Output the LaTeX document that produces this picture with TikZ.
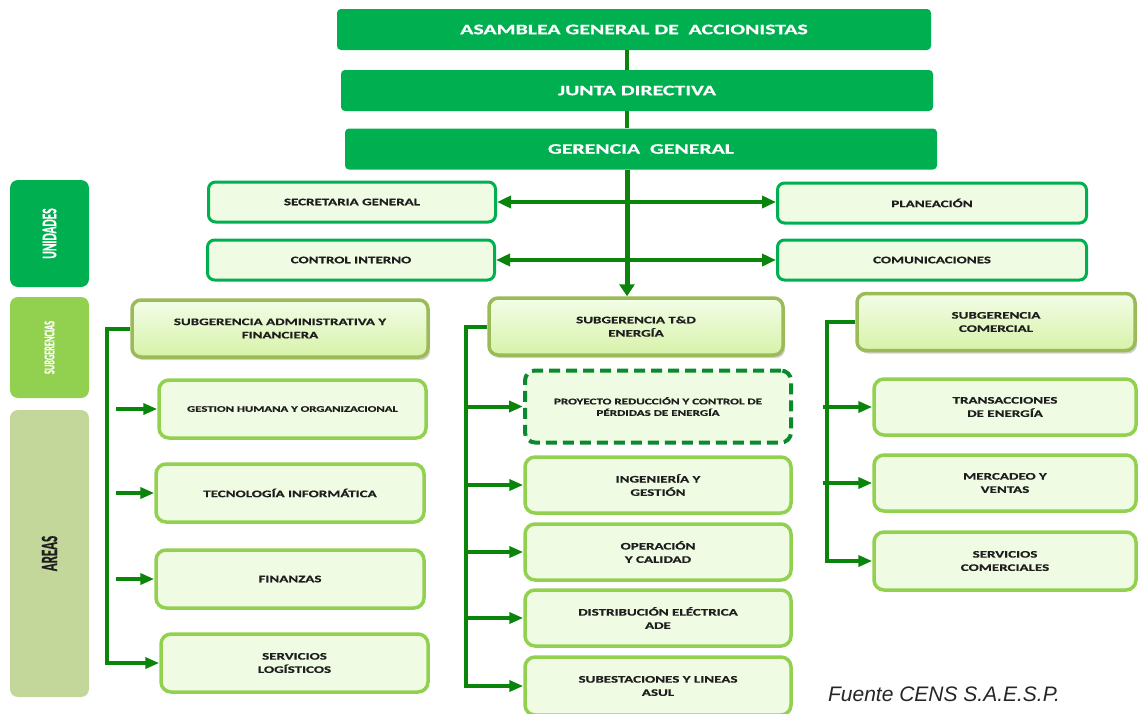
\documentclass[tikz,border=0pt]{standalone}
\usepackage{fontspec}
\usetikzlibrary{arrows.meta, calc, shadows}
\newfontfamily\boxfont{Carlito}[FakeStretch=1.5, BoldFeatures={FakeBold=0.6}]
\newfontfamily\sidefont{Carlito}[BoldFeatures={FakeBold=0.6}]
\newfontfamily\notefont{Liberation Sans}
\definecolor{ggreen}{HTML}{00B050}
\definecolor{lgreen}{HTML}{92D050}
\definecolor{olgreen}{HTML}{C4D79B}
\definecolor{subdraw}{HTML}{9BBB59}
\definecolor{arrgreen}{HTML}{0A840A}
\definecolor{dashgreen}{HTML}{0A8A2E}
\definecolor{boxfill}{HTML}{EFFBE2}
\definecolor{subtop}{HTML}{F3FDE8}
\definecolor{subbot}{HTML}{D7F2A8}
\definecolor{txt}{HTML}{1E1E1E}
\tikzset{
  wh/.style 2 args={minimum width=#1pt, minimum height=#2pt},
  topbox/.style={rectangle, rounded corners=4pt, fill=ggreen, text=white, inner sep=0pt,
    font=\boxfont\bfseries\fontsize{14.5}{16}\selectfont},
  unitbox/.style={rectangle, rounded corners=7pt, draw=ggreen, line width=3pt, fill=boxfill,
    text=txt, inner sep=0pt, font=\boxfont\bfseries\fontsize{10}{13.3}\selectfont},
  subbox/.style={rectangle, rounded corners=9pt, draw=subdraw, line width=3.5pt,
    top color=subtop, bottom color=subbot, text=txt, align=center, inner sep=0pt,
    drop shadow={shadow xshift=2pt, shadow yshift=-3pt, opacity=0.35},
    font=\boxfont\bfseries\fontsize{10}{13.3}\selectfont},
  areabox/.style={rectangle, rounded corners=10pt, draw=lgreen, line width=3.5pt, fill=boxfill,
    text=txt, align=center, inner sep=0pt, font=\boxfont\bfseries\fontsize{10}{13.3}\selectfont},
  projbox/.style={areabox, draw=dashgreen, line width=4pt, dash pattern=on 11pt off 6pt},
  sidebox/.style={rectangle, rounded corners=8pt, inner sep=0pt, minimum width=79pt},
  conn/.style={draw=arrgreen, line width=4pt},
  arr/.style={conn, -{Triangle[length=14pt, width=11pt]}},
  varr/.style={draw=arrgreen, line width=5pt, -{Triangle[length=12pt, width=15pt]}},
  darr/.style={conn, {Triangle[length=14pt, width=12pt]}-{Triangle[length=14pt, width=12pt]}},
}
\begin{document}
\begin{tikzpicture}[x=1pt, y=-1pt]
  \clip (0,0) rectangle (1139,713);
  \fill[white] (0,0) rectangle (1139,713);
  % side labels
  \node[sidebox, fill=ggreen, minimum height=107pt] (uni) at (49.5,233.5)
    {\rotatebox{90}{\scalebox{1}[1.8]{\sidefont\bfseries\fontsize{11.5}{12}\selectfont\color{white}UNIDADES}}};
  \node[sidebox, fill=lgreen, minimum height=101pt] (subl) at (49.5,347.5)
    {\rotatebox{90}{\scalebox{1}[1.8]{\sidefont\bfseries\fontsize{8.3}{9}\selectfont\color{white}SUBGERENCIAS}}};
  \node[sidebox, fill=olgreen, minimum height=287pt] (arl) at (49.5,553.5)
    {\rotatebox{90}{\scalebox{1}[1.8]{\sidefont\bfseries\fontsize{13}{14}\selectfont\color{txt}AREAS}}};
  % top of the chart
  \node[topbox, wh={594}{41}] (asam) at (634,29.5) {ASAMBLEA GENERAL DE \ ACCIONISTAS};
  \node[topbox, wh={592}{41}] (junta) at (637,90.5) {JUNTA DIRECTIVA};
  \node[topbox, wh={592}{41}] (ger) at (641,149) {GERENCIA \ GENERAL};
  % units
  \node[unitbox, wh={287}{40}] (sec) at (352,202) {SECRETARIA GENERAL};
  \node[unitbox, wh={309}{40}] (plan) at (932,203) {PLANEACIÓN};
  \node[unitbox, wh={287}{40}] (ctrl) at (351,260) {CONTROL INTERNO};
  \node[unitbox, wh={309}{40}] (com) at (932,260) {COMUNICACIONES};
  % subgerencias
  \node[subbox, wh={296}{57}] (sadm) at (280,328.5) {SUBGERENCIA ADMINISTRATIVA Y\\FINANCIERA};
  \node[subbox, wh={294}{57}] (std) at (636,326.5) {SUBGERENCIA T\&D\\ENERGÍA};
  \node[subbox, wh={278}{57}] (scom) at (996,322) {SUBGERENCIA\\COMERCIAL};
  % areas, administrativa
  \node[areabox, wh={267}{58}, font=\boxfont\bfseries\fontsize{8.5}{11}\selectfont] (gh) at (292.5,409) {GESTION HUMANA Y ORGANIZACIONAL};
  \node[areabox, wh={268}{58}] (ti) at (290,493) {TECNOLOGÍA INFORMÁTICA};
  \node[areabox, wh={268}{58}] (fin) at (290,579) {FINANZAS};
  \node[areabox, wh={267}{58}] (slog) at (294.5,663) {SERVICIOS\\LOGÍSTICOS};
  % areas, T&D
  \node[projbox, wh={266}{72}, font=\boxfont\bfseries\fontsize{8.7}{11.5}\selectfont] (proy) at (658,406.5)
    {PROYECTO REDUCCIÓN Y CONTROL DE\\PÉRDIDAS DE ENERGÍA};
  \node[areabox, wh={266}{56}] (ing) at (658,485) {INGENIERÍA Y\\GESTIÓN};
  \node[areabox, wh={266}{56}] (ope) at (658,552) {OPERACIÓN\\Y CALIDAD};
  \node[areabox, wh={266}{56}] (dis) at (658,618) {DISTRIBUCIÓN ELÉCTRICA\\ADE};
  \node[areabox, wh={266}{58}] (sube) at (658,686) {SUBESTACIONES Y LINEAS\\ASUL};
  % areas, comercial
  \node[areabox, wh={262}{56}] (tra) at (1005,407) {TRANSACCIONES\\DE ENERGÍA};
  \node[areabox, wh={262}{56}] (mer) at (1005,483) {MERCADEO Y\\VENTAS};
  \node[areabox, wh={262}{58}] (sco) at (1005,561) {SERVICIOS\\COMERCIALES};
  % connectors
  \coordinate (spine) at (627,0);
  \coordinate (lbus) at (107,0);
  \coordinate (mbus) at (466,0);
  \coordinate (rbus) at (827,0);
  \draw[conn] (asam.south -| spine) -- (junta.north -| spine);
  \draw[conn] (junta.south -| spine) -- (ger.north -| spine);
  \draw[darr] (sec.east) -- (sec.east -| plan.west);
  \draw[darr] (ctrl.east) -- (ctrl.east -| com.west);
  \draw[varr] (ger.south -| spine) -- (std.north -| spine);
  \draw[arr] (sadm.west) -| (lbus |- slog) -- (slog.west);
  \foreach \n in {gh, ti, fin}
    \draw[arr] ($(\n.west -| lbus)+(9,0)$) -- (\n.west);
  \draw[arr] (std.west) -| (mbus |- sube) -- (sube.west);
  \foreach \n in {proy, ing, ope, dis}
    \draw[arr] (\n.west -| mbus) -- (\n.west);
  \draw[arr] (scom.west) -| (rbus |- sco) -- (sco.west);
  \foreach \n in {tra, mer}
    \draw[arr] ($(\n.west -| rbus)+(-4,0)$) -- (\n.west);
  % source note
  \node[font=\notefont\itshape\fontsize{21}{24}\selectfont, text=black!85] (src) at (944,694) {Fuente CENS S.A.E.S.P.};
\end{tikzpicture}
\end{document}
